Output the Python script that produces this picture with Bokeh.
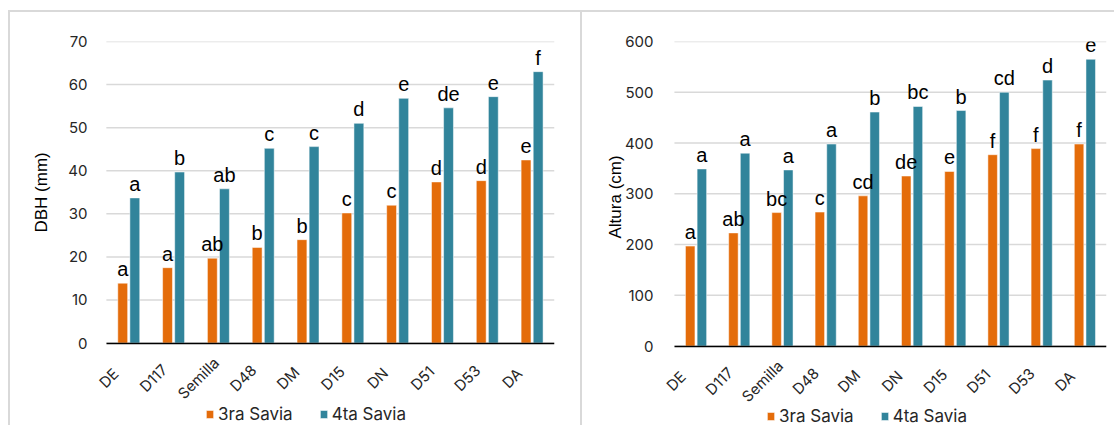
from bokeh.plotting import figure
from bokeh.models import (ColumnDataSource, Range1d, FixedTicker, Legend, LegendItem,
                          LabelSet, Title)
from bokeh.layouts import row
from bokeh.core.properties import value
from bokeh.embed import file_html
from bokeh.resources import INLINE
import math

# ---------------- data ----------------
dbh_cats = ["DE", "D117", "Semilla", "D48", "DM", "D15", "DN", "D51", "D53", "DA"]
dbh_3ra = [13.9, 17.5, 19.7, 22.2, 24.0, 30.2, 32.0, 37.4, 37.7, 42.5]
dbh_4ta = [33.7, 39.7, 35.8, 45.2, 45.6, 51.0, 56.8, 54.6, 57.2, 63.0]
dbh_let_3ra = ["a", "a", "ab", "b", "b", "c", "c", "d", "d", "e"]
dbh_let_4ta = ["a", "b", "ab", "c", "c", "d", "e", "de", "e", "f"]
dbh_yticks = [0, 10, 20, 30, 40, 50, 60, 70]

alt_cats = ["DE", "D117", "Semilla", "D48", "DM", "DN", "D15", "D51", "D53", "DA"]
alt_3ra = [197, 223, 263, 264, 296, 335, 344, 377, 389, 398]
alt_4ta = [349, 380, 347, 398, 461, 472, 464, 500, 524, 565]
alt_let_3ra = ["a", "ab", "bc", "c", "cd", "de", "e", "f", "f", "f"]
alt_let_4ta = ["a", "a", "a", "a", "b", "bc", "b", "cd", "d", "e"]
alt_yticks = [0, 100, 200, 300, 400, 500, 600]

series_names = ["3ra Savia", "4ta Savia"]
ORANGE = "#E46C0A"
TEAL = "#31849B"
GRID = "#D9D9D9"
TICK_FONT = "Inter"
LETTER_FONT = "Liberation Sans"

BAR_OFF = 0.135
BAR_W = 0.22


def make_panel(cats, v3, v4, l3, l4, xmin, ymin, yticks, ylabel, width, margin,
               bl, br, bt, leg_x, leg_y, tick_standoff, title_offset, title_standoff):
    n = len(cats)
    centers = [i + 0.5 for i in range(n)]
    src = ColumnDataSource(dict(
        xc=centers, cat=cats,
        x3=[c - BAR_OFF for c in centers], x4=[c + BAR_OFF for c in centers],
        v3=v3, v4=v4, l3=l3, l4=l4))
    gsrc = ColumnDataSource(dict(y=yticks, x0=[0] * len(yticks), x1=[n] * len(yticks)))

    p = figure(x_range=Range1d(xmin, n), y_range=Range1d(ymin, yticks[-1]),
               width=width, height=415, output_backend="svg", toolbar_location=None,
               min_border_left=bl, min_border_right=br, min_border_top=bt, min_border_bottom=0)
    p.margin = margin
    p.outline_line_color = None
    p.background_fill_color = "white"
    p.border_fill_color = "white"
    p.xgrid.grid_line_color = None
    p.ygrid.grid_line_color = None

    # horizontal gridlines spanning only the category area
    p.segment(x0="x0", x1="x1", y0="y", y1="y", source=gsrc,
              line_color=GRID, line_width=1.5)

    r3 = p.vbar(x="x3", top="v3", width=BAR_W, source=src,
                fill_color=ORANGE, line_color="white", line_width=0.5)
    r4 = p.vbar(x="x4", top="v4", width=BAR_W, source=src,
                fill_color=TEAL, line_color="white", line_width=0.5)

    # significance letters
    for xc, yc, lab in [("x3", "v3", "l3"), ("x4", "v4", "l4")]:
        p.add_layout(LabelSet(x=xc, y=yc, text=lab, source=src,
                              text_align="center", text_baseline="alphabetic", y_offset=7,
                              text_font=value(LETTER_FONT), text_font_size="20px",
                              text_color="#000000"))

    # category labels, rotated 45 degrees and centred under each group
    p.add_layout(LabelSet(x="xc", y=0, text="cat", source=src, angle=math.pi / 4,
                          text_align="center", text_baseline="middle",
                          x_offset=-20, y_offset=-35,
                          text_font=value(TICK_FONT), text_font_size="15px",
                          text_color="#262626"))

    p.yaxis.ticker = FixedTicker(ticks=yticks)
    p.yaxis.axis_line_color = None
    p.yaxis.major_tick_line_color = None
    p.yaxis.minor_tick_line_color = None
    p.yaxis.major_label_text_font = TICK_FONT
    p.yaxis.major_label_text_font_size = "15px"
    p.yaxis.major_label_text_color = "#262626"
    p.yaxis.major_label_standoff = tick_standoff

    ytitle = Title(text=ylabel, align="left", offset=title_offset, vertical_align="bottom",
                   standoff=title_standoff, text_font=LETTER_FONT, text_font_size="17px",
                   text_font_style="normal", text_color="#000000")
    p.add_layout(ytitle, "left")

    p.xaxis.ticker = FixedTicker(ticks=[])
    p.xaxis.fixed_location = 0
    p.xaxis.bounds = (0, n)
    p.xaxis.axis_line_color = "#000000"
    p.xaxis.axis_line_width = 1.5
    p.xaxis.major_tick_line_color = None
    p.xaxis.minor_tick_line_color = None

    legend = Legend(items=[LegendItem(label=series_names[0], renderers=[r3]),
                           LegendItem(label=series_names[1], renderers=[r4])],
                    orientation="horizontal", location=(leg_x, leg_y),
                    glyph_width=9, glyph_height=10, label_standoff=4, spacing=26,
                    padding=0, margin=0, border_line_color=None, background_fill_alpha=0,
                    label_text_font=TICK_FONT, label_text_font_size="17px",
                    label_text_color="#262626", label_height=18)
    p.add_layout(legend)
    p.styles = {"border-top": "2px solid #D9D9D9", "border-left": "2px solid #D9D9D9"}
    return p


p1 = make_panel(dbh_cats, dbh_3ra, dbh_4ta, dbh_let_3ra, dbh_let_4ta, -0.22, -19.6, dbh_yticks,
                "DBH (mm)", 572, (10, 0, 0, 8), 86, 28, 29, 109, 3, 3, 195, 30)
p2 = make_panel(alt_cats, alt_3ra, alt_4ta, alt_let_3ra, alt_let_4ta, -0.23, -160.3, alt_yticks,
                "Altura (cm)", 534, (10, 0, 0, 0), 82, 10, 26, 102, 1, 5, 189, -6)

layout = row(p1, p2)
open("out.html", "w").write(file_html(layout, INLINE))
